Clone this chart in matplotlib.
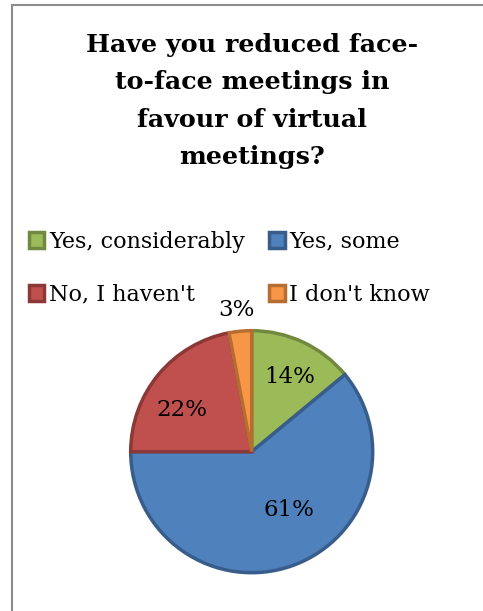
import numpy as np
import matplotlib.pyplot as plt
from matplotlib.patches import Rectangle

# survey answers
labels = ["Yes, considerably", "Yes, some", "No, I haven't", "I don't know"]
shares = [14, 61, 22, 3]
title = "Have you reduced face-\nto-face meetings in\nfavour of virtual\nmeetings?"

fills = ["#9BBB59", "#4F81BD", "#C0504D", "#F79646"]
edges = ["#71893F", "#385D8A", "#8C3836", "#B66D31"]

# where each percentage sits: (distance from centre, angle in degrees)
label_pos = [(0.69, 63), (0.57, -57), (0.67, 149), (1.18, 96)]

plt.rcParams["font.family"] = "DejaVu Serif"

fig = plt.figure(figsize=(4.83, 6.11), dpi=100)
W, H = 483, 611

# chart border (only left and top are inside the crop)
fig.add_artist(Rectangle((12 / W, -0.1), 1.2, (H - 5) / H + 0.1, transform=fig.transFigure,
                         fill=False, edgecolor="#8c8c8c", linewidth=1.5))

fig.text(252 / W, 1 - 101 / H, title, ha="center", va="center", fontsize=18.3,
         fontweight="bold", linespacing=1.7)

R = 121
cx, cy = 251.7, 451.7
ax = fig.add_axes([(cx - R) / W, (H - cy - R) / H, 2 * R / W, 2 * R / H])
wedges, _ = ax.pie(shares, colors=fills, startangle=90, counterclock=False,
                   wedgeprops=dict(linewidth=2.5))
for w, ec in zip(wedges, edges):
    w.set_edgecolor(ec)
    w.set_clip_on(False)
ax.set_xlim(-1, 1)
ax.set_ylim(-1, 1)
ax.set_aspect("equal")

for v, (r, a) in zip(shares, label_pos):
    ax.text(r * np.cos(np.radians(a)), r * np.sin(np.radians(a)), f"{v}%",
            ha="center", va="center", fontsize=16.5, clip_on=False)

order = [0, 2, 1, 3]
leg = fig.legend([wedges[i] for i in order], [labels[i] for i in order], ncol=2,
                 loc="upper left", bbox_to_anchor=(20 / W, 1 - 222 / H), frameon=False,
                 fontsize=16, handlelength=0.7, handleheight=0.7, handletextpad=0.2,
                 columnspacing=1.1, labelspacing=1.38, borderaxespad=0)

fig.savefig("out.png", dpi=100)
